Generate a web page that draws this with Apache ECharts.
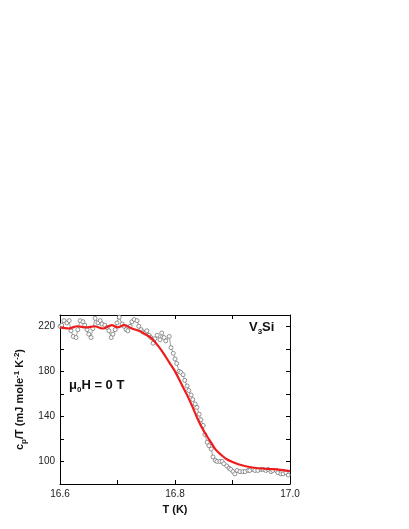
<!DOCTYPE html>
<html>
<head>
<meta charset="utf-8">
<script src="https://cdn.jsdelivr.net/npm/echarts@6/dist/echarts.min.js"></script>
<style>
  html, body { margin: 0; padding: 0; background: #fff; }
  #chart { width: 409px; height: 529px; }
</style>
</head>
<body>
<div id="chart"></div>
<script>
// measured points (T in K, c_p/T in mJ/mole K^2)
const measT = [
  16.600, 16.603, 16.607, 16.612, 16.616, 16.619, 16.623, 16.628, 16.631, 16.635,
  16.640, 16.643, 16.647, 16.650, 16.654, 16.657, 16.661, 16.666, 16.670, 16.673,
  16.678, 16.682, 16.685, 16.689, 16.692, 16.696, 16.699, 16.703, 16.708, 16.711,
  16.715, 16.718, 16.722, 16.725, 16.729, 16.734, 16.737, 16.741, 16.744, 16.748,
  16.751, 16.755, 16.758, 16.762, 16.765, 16.769, 16.774, 16.777, 16.781, 16.784,
  16.790, 16.793, 16.797, 16.800, 16.803, 16.807, 16.810, 16.814, 16.817, 16.821,
  16.824, 16.828, 16.831, 16.835, 16.838, 16.842, 16.845, 16.849, 16.852, 16.856,
  16.859, 16.863, 16.866, 16.870, 16.873, 16.878, 16.882, 16.885, 16.890, 16.894,
  16.897, 16.901, 16.904, 16.908, 16.913, 16.918, 16.922, 16.927, 16.930, 16.936,
  16.939, 16.944, 16.950, 16.953, 16.958, 16.962, 16.967, 16.970, 16.976, 16.979,
  16.984, 16.988, 16.993, 16.997
]
const measC = [
  220, 221, 225, 223, 225, 216, 211, 210, 217, 225,
  224, 221, 217, 213, 210, 218, 227, 223, 225, 222,
  221, 219, 216, 210, 213, 217, 223, 228, 222, 220,
  217, 216, 220, 224, 226, 225, 220, 217, 215, 214,
  216, 212, 210, 205, 209, 212, 208, 214, 210, 207,
  211, 201, 196, 191, 187, 180, 179, 177, 172, 167,
  163, 159, 155, 151, 148, 142, 137, 132, 124, 117,
  114, 111, 104, 101, 100, 100, 100, 98, 96, 94,
  93, 91, 89, 92, 91, 91, 91, 92, 92, 93,
  92, 92, 93, 93, 92, 93, 91, 92, 92, 90,
  89, 89, 90, 88
]
// smooth fit (red)
const fitT = [
  16.600, 16.615, 16.630, 16.645, 16.660, 16.675, 16.690, 16.700, 16.712, 16.725,
  16.737, 16.748, 16.760, 16.770, 16.780, 16.790, 16.800, 16.810, 16.820, 16.830,
  16.840, 16.850, 16.860, 16.870, 16.880, 16.890, 16.900, 16.910, 16.925, 16.945,
  16.965, 16.980, 17.000
]
const fitC = [
  219, 218, 220, 219, 220, 218, 221, 219, 221, 218,
  216, 213, 209, 203, 196, 188, 180, 170, 160, 149,
  137, 127, 119, 111, 106, 102, 99.5, 97.5, 95.5, 94,
  93.3, 92.8, 91.5
]
const xLabelsShown = [16.6, 16.8, 17.0]
const yLabelsShown = [100, 140, 180, 220]

const chart = echarts.init(document.getElementById('chart'))

const axisCommon = {
  axisLine: { show: true, lineStyle: { color: '#000', width: 1 } },
  axisTick: { show: true, inside: true, length: 4, lineStyle: { color: '#000', width: 1 } },
  splitLine: { show: false }
}

const option = {
  animation: false,
  backgroundColor: '#fff',
  grid: { left: 60, right: 119, top: 315, bottom: 45 },
  xAxis: [
    {
      type: 'value', min: 16.6, max: 17.0, interval: 0.1,
      ...axisCommon,
      axisLabel: {
        color: '#222', fontSize: 10, fontFamily: 'Liberation Sans', margin: 5,
        formatter: function (v) {
          const ok = xLabelsShown.some(s => Math.abs(s - v) < 1e-6)
          return ok ? v.toFixed(1) : ''
        }
      },
      name: 'T (K)', nameLocation: 'middle', nameGap: 20,
      nameTextStyle: { fontSize: 11, fontWeight: 'bold', color: '#111', fontFamily: 'Liberation Sans' }
    },
    {
      type: 'value', position: 'top', min: 16.6, max: 17.0, interval: 0.1,
      ...axisCommon, axisLabel: { show: false }
    }
  ],
  yAxis: [
    {
      type: 'value', min: 80, max: 230, interval: 20,
      ...axisCommon,
      axisLabel: {
        color: '#222', fontSize: 10, fontFamily: 'Liberation Sans', margin: 5,
        formatter: function (v) {
          return yLabelsShown.indexOf(v) >= 0 ? String(v) : ''
        }
      },
      name: '{a|c}{sub|p}{a|/T (mJ mole}{sup|-1}{a| K}{sup|-2}{a|)}',
      nameLocation: 'middle', nameGap: 30, nameRotate: 90,
      nameTextStyle: {
        color: '#111',
        rich: {
          a: { fontSize: 11, fontWeight: 'bold', fontFamily: 'Liberation Sans', lineHeight: 15, verticalAlign: 'middle' },
          sub: { fontSize: 8, fontWeight: 'bold', fontFamily: 'Liberation Sans', lineHeight: 15, verticalAlign: 'bottom' },
          sup: { fontSize: 8, fontWeight: 'bold', fontFamily: 'Liberation Sans', lineHeight: 15, verticalAlign: 'top' }
        }
      }
    },
    {
      type: 'value', position: 'right', min: 80, max: 230, interval: 20,
      ...axisCommon, axisLabel: { show: false }
    }
  ],
  series: [
    {
      name: 'data', type: 'line',
      data: measT.map((t, i) => [t, measC[i]]),
      symbol: 'circle', symbolSize: 4,
      itemStyle: { color: '#fff', borderColor: '#777', borderWidth: 0.8 },
      lineStyle: { color: '#888', width: 0.8 },
      z: 2
    },
    {
      name: 'fit', type: 'line', smooth: 0.3,
      data: fitT.map((t, i) => [t, fitC[i]]),
      showSymbol: false,
      lineStyle: { color: '#ee1c1c', width: 2.2 },
      z: 3
    }
  ],
  graphic: [
    {
      type: 'text', left: 249, top: 321,
      style: {
        text: '{a|V}{s|3}{a|Si}',
        rich: {
          a: { fontSize: 13, fontWeight: 'bold', fontFamily: 'Liberation Sans', fill: '#111', lineHeight: 17, verticalAlign: 'middle' },
          s: { fontSize: 8, fontWeight: 'bold', fontFamily: 'Liberation Sans', fill: '#111', lineHeight: 17, verticalAlign: 'bottom' }
        }
      }
    },
    {
      type: 'text', left: 69, top: 379,
      style: {
        text: '{a|\u03bc}{s|0}{a|H = 0 T}',
        rich: {
          a: { fontSize: 13, fontWeight: 'bold', fontFamily: 'Liberation Sans', fill: '#111', lineHeight: 17, verticalAlign: 'middle' },
          s: { fontSize: 8, fontWeight: 'bold', fontFamily: 'Liberation Sans', fill: '#111', lineHeight: 17, verticalAlign: 'bottom' }
        }
      }
    }
  ]
}

chart.setOption(option)
</script>
</body>
</html>
